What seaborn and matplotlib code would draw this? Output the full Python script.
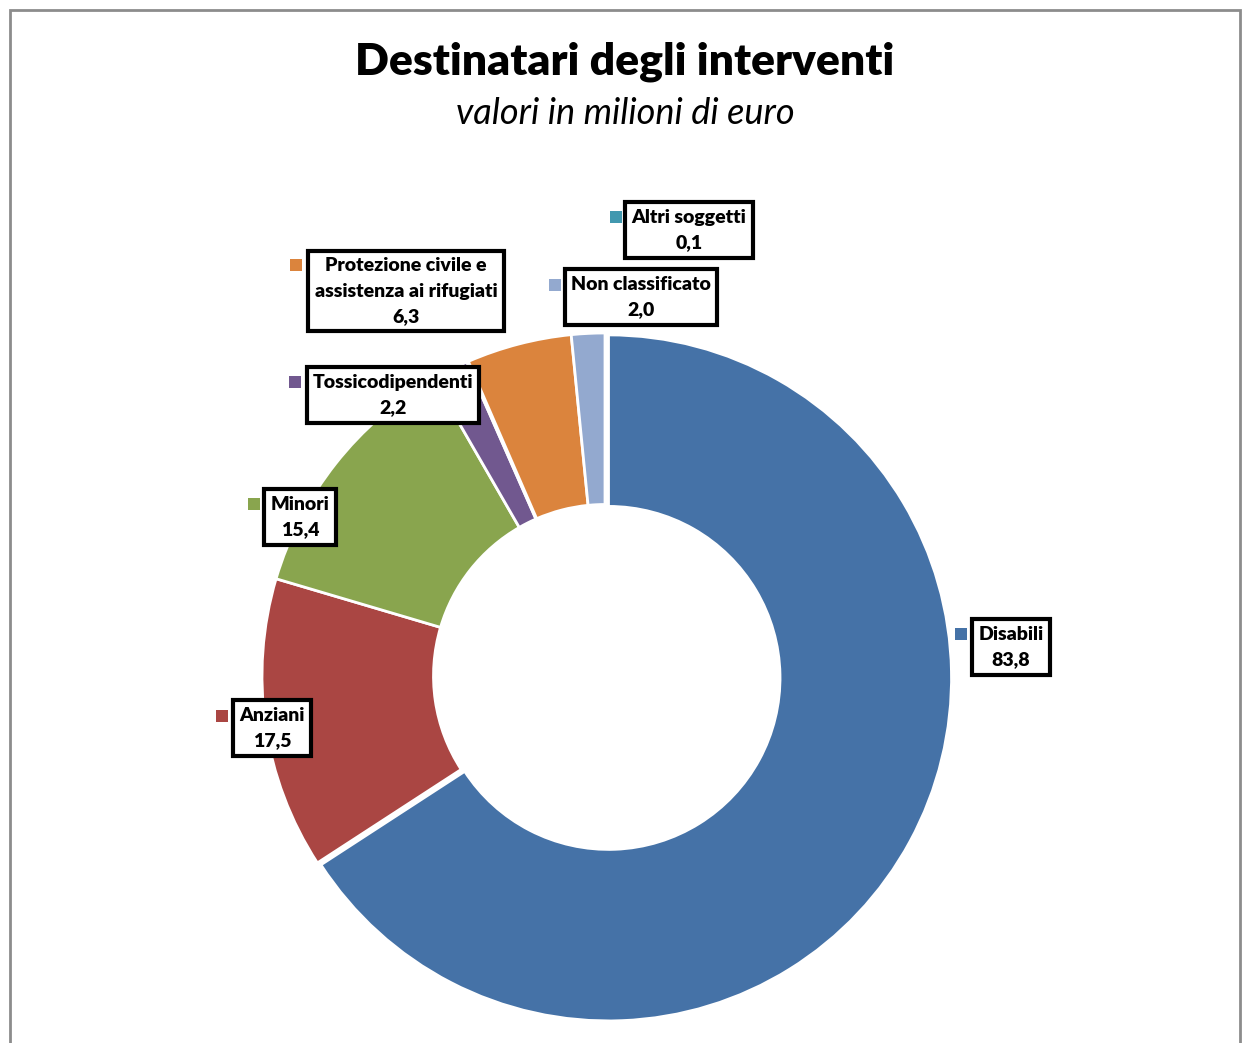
import matplotlib
matplotlib.use("Agg")
import matplotlib.pyplot as plt
import seaborn as sns
from matplotlib.patches import Rectangle

sns.set_theme(style="white")
plt.rcParams['font.family'] = ['Lato', 'DejaVu Sans']

categories = ["Disabili", "Anziani", "Minori", "Tossicodipendenti",
              "Altri soggetti", "Protezione civile e\nassistenza ai rifugiati",
              "Non classificato"]
values = [83.8, 17.5, 15.4, 2.2, 0.1, 6.3, 2.0]
colors = ["#4572A7", "#AA4643", "#89A54E", "#71588F", "#4198AF", "#DB843D", "#93A9CF"]

# label layout (pixel positions: text centre, marker square)
label_pos = [(1011, 647), (272, 728), (300, 517), (393, 395), (689, 230), (406, 291), (641, 297)]
marker_pos = [(961, 634), (222, 716), (254, 504), (295, 382), (616, 217), (296, 265), (555, 285)]

W, H = 1246, 1043
fig = plt.figure(figsize=(W / 100, H / 100), dpi=100)
ax = fig.add_axes([0, 0, 1, 1])

cx, cy, R = 605, -676, 343
explode = [4, 0, 0, 0, 0, 0, 0]
ax.pie(values, colors=colors, startangle=90, counterclock=False,
       center=(cx, cy), radius=R, explode=explode,
       wedgeprops=dict(width=R * 0.5, edgecolor="white", linewidth=2))

ax.set_xlim(0, W)
ax.set_ylim(-H, 0)
ax.set_aspect("equal")
ax.axis("off")

# chart border
ax.add_patch(Rectangle((10, -1060), 1230, 1050, fill=False, edgecolor="#8c8c8c", linewidth=2))

ax.text(625, -62, "Destinatari degli interventi", ha="center", va="center",
        fontsize=32, fontweight="heavy", color="black")
ax.text(625, -113, "valori in milioni di euro", ha="center", va="center",
        fontsize=26, fontstyle="italic", color="black")

for cat, val, col, (tx, ty), (mx, my) in zip(categories, values, colors, label_pos, marker_pos):
    txt = f"{cat}\n{val:.1f}".replace(".", ",")
    ax.text(tx, -ty, txt, ha="center", va="center", fontsize=14, fontweight="heavy",
            color="black", linespacing=1.62,
            bbox=dict(boxstyle="square,pad=0.32", facecolor="white", edgecolor="black", linewidth=3))
    ax.scatter([mx], [-my], marker="s", s=75, color=col, zorder=3, linewidths=0)

fig.savefig("out.png", dpi=100)
